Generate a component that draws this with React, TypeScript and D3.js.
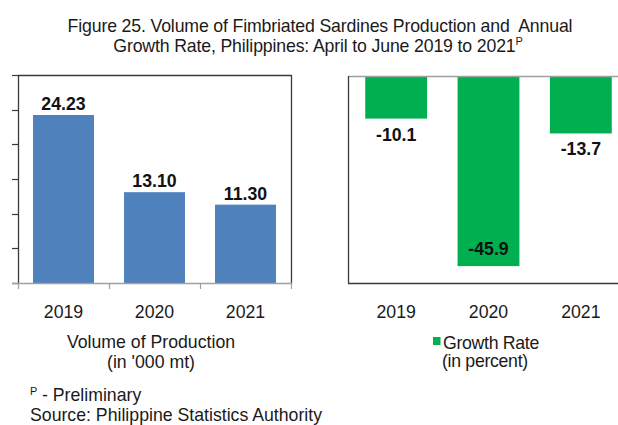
import React from "react";
import * as d3 from "d3";

const years = ["2019", "2020", "2021"];
const production = [24.23, 13.1, 11.3];
const growthRate = [-10.1, -45.9, -13.7];
const productionTicks = [0, 5, 10, 15, 20, 25, 30];
const titleLine1 = "Figure 25. Volume of Fimbriated Sardines Production and\u00a0 Annual";
const titleLine2 = "Growth Rate, Philippines: April to June 2019 to 2021";
const titleSup = "P";
const leftAxisTitle = ["Volume of Production", "(in '000 mt)"];
const legendLabel = ["Growth Rate", "(in percent)"];
const footnotes = ["- Preliminary", "Source: Philippine Statistics Authority"];

const locale = d3.formatLocale({
  decimal: ".",
  thousands: ",",
  grouping: [3],
  currency: ["", ""],
  minus: "-",
});
const fmt2 = locale.format(".2f");
const fmt1 = locale.format(".1f");

const FONT = "'Liberation Sans', Arial, sans-serif";
const BLUE = "#4F81BD";
const GREEN = "#00B050";
const DARK = "#3a3a3a";
const GRAY = "#a0a0a0";
const FS = 17.7;

export default function App() {
  const W = 618;
  const H = 425;

  // Left chart
  const xL = d3.scaleBand<string>().domain(years).range([18, 291]);
  const yL = d3.scaleLinear().domain([0, 30]).range([283, 75]);
  const barPad = 0.165;
  const barFrac = 0.67;

  // Right chart
  const xR = d3.scaleBand<string>().domain(years).range([350, 627]);
  const yR = d3.scaleLinear().domain([-50, 0]).range([283, 77]);

  const [l0, l1] = xL.range();
  const [t0, b0] = [yL(30), yL(0)];

  return (
    <svg
      width={W}
      height={H}
      viewBox={`0 0 ${W} ${H}`}
      style={{ position: "absolute", left: 0, top: 0, background: "#fff" }}
      fontFamily={FONT}
    >
      <rect x={0} y={0} width={W} height={H} fill="#fff" />
      {/* Title */}
      <text x={320} y={32} textAnchor="middle" fontSize={FS} fill="#1a1a1a" letterSpacing={-0.15}>
        {titleLine1}
      </text>
      <text x={318} y={52} textAnchor="middle" fontSize={FS} fill="#1a1a1a" letterSpacing={-0.15}>
        {titleLine2}
        <tspan fontSize={11} dy={-7}>{titleSup}</tspan>
      </text>

      {/* Left chart bars */}
      {years.map((yr, i) => {
        const bx = (xL(yr) as number) + xL.bandwidth() * barPad;
        const bw = xL.bandwidth() * barFrac;
        return (
          <g key={"l" + yr}>
            <rect x={bx} y={yL(production[i])} width={bw} height={yL(0) - yL(production[i])} fill={BLUE} />
            <text
              x={bx + bw / 2}
              y={yL(production[i]) - 5}
              textAnchor="middle"
              fontSize={FS}
              fontWeight="bold"
              fill="#111"
            >
              {fmt2(production[i])}
            </text>
            <text x={(xL(yr) as number) + xL.bandwidth() / 2} y={318} textAnchor="middle" fontSize={FS} fill="#1a1a1a">
              {yr}
            </text>
          </g>
        );
      })}
      {/* Left frame */}
      <line x1={l0 + 0.5} x2={l0 + 0.5} y1={t0} y2={b0} stroke={DARK} strokeWidth={1.3} />
      <line x1={l0} x2={l1 + 0.5} y1={t0 + 0.5} y2={t0 + 0.5} stroke={DARK} strokeWidth={1.3} />
      <line x1={l1 + 0.5} x2={l1 + 0.5} y1={t0} y2={b0} stroke={DARK} strokeWidth={1.3} />
      {productionTicks.map((t) => (
        <line key={"t" + t} x1={12} x2={l0 + 0.5} y1={Math.round(yL(t)) + 0.5} y2={Math.round(yL(t)) + 0.5} stroke={DARK} strokeWidth={1.2} />
      ))}
      <line x1={12} x2={l1 + 1} y1={b0 + 0.5} y2={b0 + 0.5} stroke={GRAY} strokeWidth={1.3} />
      {[...years.map((y) => xL(y) as number), l1].map((x, i) => (
        <line key={"xt" + i} x1={x + 0.5} x2={x + 0.5} y1={b0} y2={b0 + 6} stroke={GRAY} strokeWidth={1.2} />
      ))}
      <text x={151} y={348} textAnchor="middle" fontSize={FS} fill="#1a1a1a">
        {leftAxisTitle[0]}
      </text>
      <text x={151} y={367.5} textAnchor="middle" fontSize={FS} fill="#1a1a1a">
        {leftAxisTitle[1]}
      </text>

      {/* Right chart bars */}
      {years.map((yr, i) => {
        const bx = (xR(yr) as number) + xR.bandwidth() * barPad;
        const bw = xR.bandwidth() * barFrac;
        const v = growthRate[i];
        const inside = yR(v) > yR(-40);
        return (
          <g key={"r" + yr}>
            <rect x={bx} y={yR(0)} width={bw} height={yR(v) - yR(0)} fill={GREEN} />
            <text
              x={bx + bw / 2}
              y={inside ? yR(v) - 11 : yR(v) + 22}
              textAnchor="middle"
              fontSize={FS}
              fontWeight="bold"
              fill="#111"
            >
              {fmt1(v)}
            </text>
            <text x={(xR(yr) as number) + xR.bandwidth() / 2} y={318} textAnchor="middle" fontSize={FS} fill="#1a1a1a">
              {yr}
            </text>
          </g>
        );
      })}
      {/* Right frame */}
      <line x1={348.5} x2={W} y1={yR(0) - 0.5} y2={yR(0) - 0.5} stroke={GRAY} strokeWidth={1.5} />
      <line x1={348.5} x2={348.5} y1={yR(0) - 1} y2={yR(-50)} stroke={DARK} strokeWidth={1.3} />
      <line x1={348} x2={W} y1={yR(-50) + 0.5} y2={yR(-50) + 0.5} stroke={DARK} strokeWidth={1.3} />

      {/* Legend */}
      <rect x={433} y={337} width={7.5} height={8} fill={GREEN} />
      <text x={443} y={349} fontSize={FS} fill="#1a1a1a" letterSpacing={-0.3}>
        <tspan x={443}>{legendLabel[0]}</tspan>
        <tspan x={442} dy={18}>{legendLabel[1]}</tspan>
      </text>

      {/* Footnotes */}
      <text x={30} y={395} fontSize={11} fill="#1a1a1a">
        {titleSup}
      </text>
      <text x={42} y={401} fontSize={FS} fill="#1a1a1a">
        {footnotes[0]}
      </text>
      <text x={30} y={421} fontSize={FS} fill="#1a1a1a">
        {footnotes[1]}
      </text>
    </svg>
  );
}
